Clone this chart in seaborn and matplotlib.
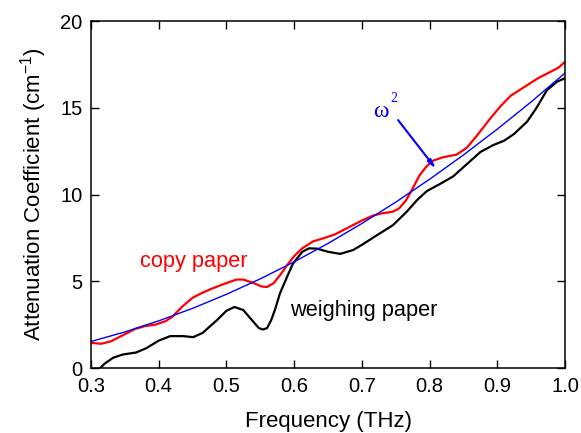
import numpy as np
import pandas as pd
import matplotlib
matplotlib.use('Agg')
import matplotlib.pyplot as plt
import seaborn as sns

# copy paper (red)
copy_f = [0.300, 0.315, 0.330, 0.350, 0.365, 0.380, 0.395, 0.410, 0.420, 0.435,
          0.450, 0.465, 0.480, 0.500, 0.515, 0.525, 0.540, 0.552, 0.560, 0.570,
          0.580, 0.590, 0.600, 0.612, 0.628, 0.645, 0.660, 0.680, 0.700, 0.716,
          0.730, 0.745, 0.755, 0.765, 0.775, 0.785, 0.795, 0.805, 0.820, 0.840,
          0.855, 0.870, 0.890, 0.905, 0.920, 0.940, 0.960, 0.980, 0.990, 1.000]
copy_a = [1.45, 1.40, 1.55, 1.95, 2.25, 2.42, 2.50, 2.70, 2.95, 3.55,
          4.05, 4.35, 4.60, 4.90, 5.10, 5.10, 4.90, 4.70, 4.67, 4.90,
          5.40, 5.95, 6.45, 6.90, 7.30, 7.50, 7.70, 8.10, 8.50, 8.78,
          8.92, 9.00, 9.20, 9.65, 10.35, 11.10, 11.60, 11.95, 12.15, 12.30,
          12.70, 13.40, 14.40, 15.10, 15.70, 16.20, 16.70, 17.10, 17.30, 17.65]

# weighing paper (black)
weigh_f = [0.310, 0.320, 0.333, 0.347, 0.367, 0.382, 0.400, 0.417, 0.436, 0.451,
           0.465, 0.486, 0.500, 0.512, 0.525, 0.539, 0.548, 0.554, 0.560, 0.566,
           0.572, 0.579, 0.590, 0.598, 0.604, 0.612, 0.622, 0.634, 0.650, 0.668,
           0.687, 0.700, 0.716, 0.746, 0.766, 0.782, 0.796, 0.815, 0.835, 0.855,
           0.875, 0.894, 0.910, 0.925, 0.944, 0.958, 0.973, 0.988, 1.000]
weigh_a = [-0.15, 0.25, 0.60, 0.78, 0.90, 1.15, 1.58, 1.84, 1.84, 1.78,
           2.03, 2.76, 3.30, 3.52, 3.34, 2.70, 2.30, 2.22, 2.30, 2.75,
           3.40, 4.30, 5.30, 6.00, 6.30, 6.70, 6.90, 6.88, 6.70, 6.58,
           6.80, 7.10, 7.50, 8.24, 9.00, 9.70, 10.20, 10.60, 11.05, 11.75,
           12.45, 12.85, 13.10, 13.50, 14.20, 15.00, 16.00, 16.50, 16.70]

# omega^2 fit (blue)
fit_f = [0.30, 0.35, 0.40, 0.45, 0.50, 0.55, 0.60, 0.65, 0.70, 0.75,
         0.80, 0.85, 0.90, 0.95, 1.00]
fit_a = [1.53, 2.08, 2.72, 3.44, 4.25, 5.14, 6.12, 7.18, 8.33, 9.56,
         10.88, 12.28, 13.77, 15.34, 17.00]

sns.set_style('ticks')
plt.rcParams['font.family'] = ['Liberation Sans', 'DejaVu Sans']
plt.rcParams['mathtext.fontset'] = 'custom'
plt.rcParams['mathtext.rm'] = 'Liberation Sans'
plt.rcParams['text.color'] = 'black'
plt.rcParams['axes.labelcolor'] = 'black'
plt.rcParams['xtick.color'] = 'black'
plt.rcParams['ytick.color'] = 'black'

fig = plt.figure(figsize=(5.81, 4.33), dpi=100)
ax = fig.add_axes([0.1566, 0.150, 0.8159, 0.8015])

sns.lineplot(x=copy_f, y=copy_a, color='#ff0000', lw=1.6, ax=ax)
sns.lineplot(x=weigh_f, y=weigh_a, color='black', lw=1.6, ax=ax)
sns.lineplot(x=fit_f, y=fit_a, color='#0000ff', lw=1.0, ax=ax)

ax.set_xlim(0.3, 1.0)
ax.set_ylim(0, 20)
ax.set_xticks(np.arange(0.3, 1.01, 0.1))
ax.set_xticklabels(['0.3', '0.4', '0.5', '0.6', '0.7', '0.8', '0.9', '1.0'])
ax.set_yticks([0, 5, 10, 15, 20])
ax.tick_params(direction='in', length=5.5, width=1, labelsize=14.5,
               top=True, right=True)
ax.tick_params(axis='x', pad=6.5)
ax.tick_params(axis='y', pad=6)
for s in ax.spines.values():
    s.set_linewidth(1.1)
    s.set_color('black')

ax.set_xlabel('Frequency (THz)', fontsize=16, labelpad=11)
ax.set_ylabel('Attenuation Coefficient (cm$^{\\mathregular{-1}}$)', fontsize=16, labelpad=8)

ax.text(0.3724, 5.82, 'copy paper', color='#ff0000', fontsize=15.7, ha='left', va='baseline')
ax.text(0.594, 3.0, 'weighing paper', color='black', fontsize=15.7, ha='left', va='baseline')
ax.text(0.7166, 14.47, '\u03c9', color='#0000ff', fontsize=17, family='Liberation Serif',
        ha='left', va='baseline')
ax.text(0.742, 15.35, '2', color='#0000ff', fontsize=10, family='Liberation Serif',
        ha='left', va='baseline')
ax.annotate('', xy=(0.8096, 11.47), xytext=(0.7535, 14.29),
            arrowprops=dict(arrowstyle='-|>,head_length=0.5,head_width=0.12',
                            color='#0000ff', lw=1.5, shrinkA=0, shrinkB=0))

fig.savefig('out.png', dpi=100)
